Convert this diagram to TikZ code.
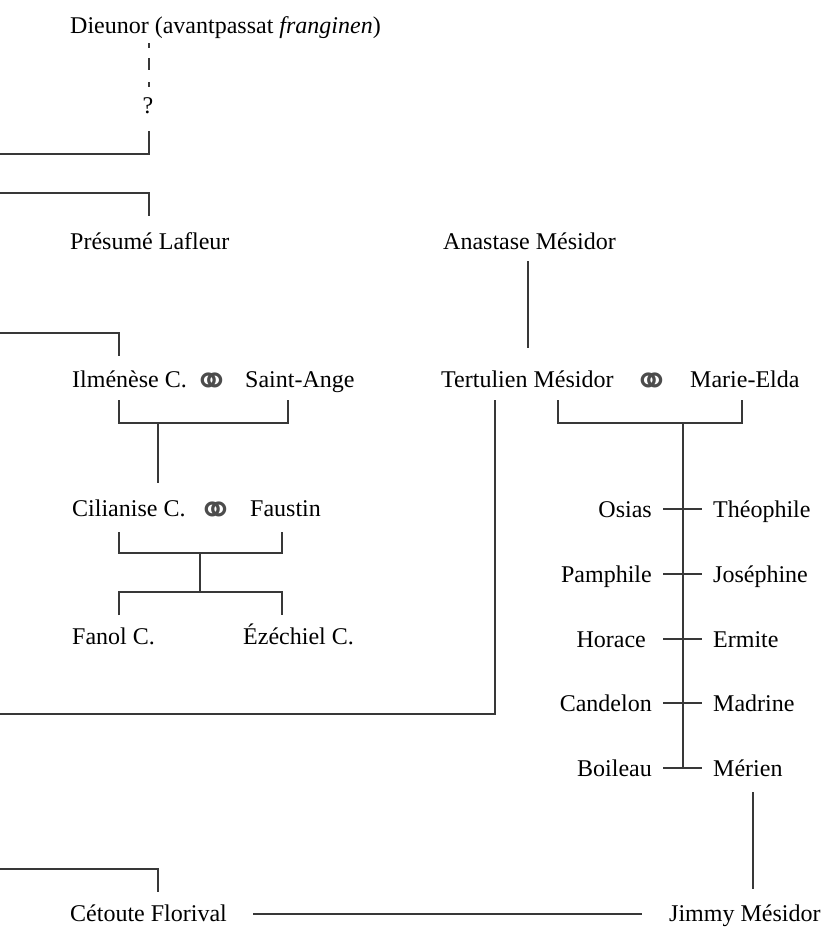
\documentclass[tikz,border=0pt]{standalone}
\usepackage{fontspec}
\setmainfont{Liberation Serif}
\newfontfamily\ringfont{DejaVu Sans}
\usetikzlibrary{calc}
\begin{document}
\begin{tikzpicture}[x=1pt,y=-1pt,
  lbl/.style={inner sep=0pt, font=\fontsize{24}{28}\selectfont, text=black},
  ring/.style={inner sep=0pt, font=\ringfont\fontsize{44}{46}\selectfont, text=black!70},
  ln/.style={line width=1.2pt, draw=black!78}]
\useasboundingbox[fill=white] (0,0) rectangle (824,929);

% free ends on the left border
\coordinate (e1) at (0,154);
\coordinate (e2) at (0,193);
\coordinate (e3) at (0,333);
\coordinate (e4) at (0,714);
\coordinate (e5) at (0,869);

% left branch
\node[lbl,anchor=base west] (dieu) at (70,33) {Dieunor (avantpassat \textit{franginen})};
\node[lbl,anchor=base] (q) at (148,113) {?};
\node[lbl,anchor=base west] (pres) at (70,249) {Présumé Lafleur};
\node[lbl,anchor=base west] (ilm) at (72,387) {Ilménèse C.};
\node[ring] (m1) at (212,385) {⚭};
\node[lbl,anchor=base west] (sain) at (245,387) {Saint-Ange};
\node[lbl,anchor=base west] (cil) at (72,516) {Cilianise C.};
\node[ring] (m2) at (216,514) {⚭};
\node[lbl,anchor=base west] (fau) at (250,516) {Faustin};
\node[lbl,anchor=base west] (fan) at (72,644) {Fanol C.};
\node[lbl,anchor=base west] (eze) at (243,644) {Ézéchiel C.};
\node[lbl,anchor=base west] (cet) at (70,921) {Cétoute Florival};

% right branch
\node[lbl,anchor=base west] (anas) at (443,249) {Anastase Mésidor};
\node[lbl,anchor=base west] (tert) at (441,387) {Tertulien Mésidor};
\node[ring] (m3) at (652,385) {⚭};
\node[lbl,anchor=base west] (marie) at (690,387) {Marie-Elda};

\node[lbl,anchor=base east] (osi) at (652,517) {Osias};
\node[lbl,anchor=base west] (theo) at (713,517) {Théophile};
\node[lbl,anchor=base east] (pam) at (652,582) {Pamphile};
\node[lbl,anchor=base west] (jos) at (713,582) {Joséphine};
\node[lbl,anchor=base east] (hor) at (646,647) {Horace};
\node[lbl,anchor=base west] (erm) at (713,647) {Ermite};
\node[lbl,anchor=base east] (can) at (652,711) {Candelon};
\node[lbl,anchor=base west] (mad) at (713,711) {Madrine};
\node[lbl,anchor=base east] (boi) at (652,776) {Boileau};
\node[lbl,anchor=base west] (mer) at (713,776) {Mérien};
\node[lbl,anchor=base west] (jim) at (669,921) {Jimmy Mésidor};

% connectors, left branch
\draw[ln, dash pattern=on 5pt off 10pt on 12pt off 12pt on 5pt off 100pt]
  ($(dieu.base west)+(79,10)$) -- ($(q.base)+(1,-26)$);
\draw[ln] ($(q.base)+(1,18)$) |- (e1);
\draw[ln] (e2) -| ($(pres.base west)+(79,-33)$);
\draw[ln] (e3) -| ($(ilm.base west)+(47,-31)$);
\draw[ln] ($(ilm.base west)+(47,13)$) -- ++(0,23) -| ($(sain.base west)+(43,13)$);
\coordinate (b1) at (158,423);
\draw[ln] (b1) -- ($(cil.base west)+(86,-33)$);
\draw[ln] ($(cil.base west)+(47,16)$) -- ++(0,21) -| ($(fau.base west)+(32,16)$);
\coordinate (b2) at (200,553);
\coordinate (b3) at (200,592);
\draw[ln] (b2) -- (b3);
\draw[ln] ($(fan.base west)+(47,-29)$) |- (b3) -| ($(eze.base west)+(39,-29)$);
\draw[ln] (e5) -| ($(cet.base west)+(88,-29)$);
\draw[ln] ($(cet.base west)+(183,-7)$) -- ($(jim.base west)+(-27,-7)$);

% connectors, right branch
\draw[ln] ($(anas.base west)+(85,12)$) -- ($(tert.base west)+(87,-39)$);
\draw[ln] ($(tert.base west)+(54,13)$) |- (e4);
\draw[ln] ($(tert.base west)+(117,13)$) -- ++(0,23) -| ($(marie.base west)+(52,13)$);
\coordinate (b4) at (683,423);
\draw[ln] (b4) -- ($(boi.base east)+(31,-8)$);
\draw[ln] ($(osi.base east)+(11,-8)$) -- ($(theo.base west)+(-11,-8)$);
\draw[ln] ($(pam.base east)+(11,-8)$) -- ($(jos.base west)+(-11,-8)$);
\draw[ln] ($(hor.base east)+(17,-8)$) -- ($(erm.base west)+(-11,-8)$);
\draw[ln] ($(can.base east)+(11,-8)$) -- ($(mad.base west)+(-11,-8)$);
\draw[ln] ($(boi.base east)+(11,-8)$) -- ($(mer.base west)+(-11,-8)$);
\draw[ln] ($(mer.base west)+(40,16)$) -- ($(jim.base west)+(84,-32)$);
\end{tikzpicture}
\end{document}
